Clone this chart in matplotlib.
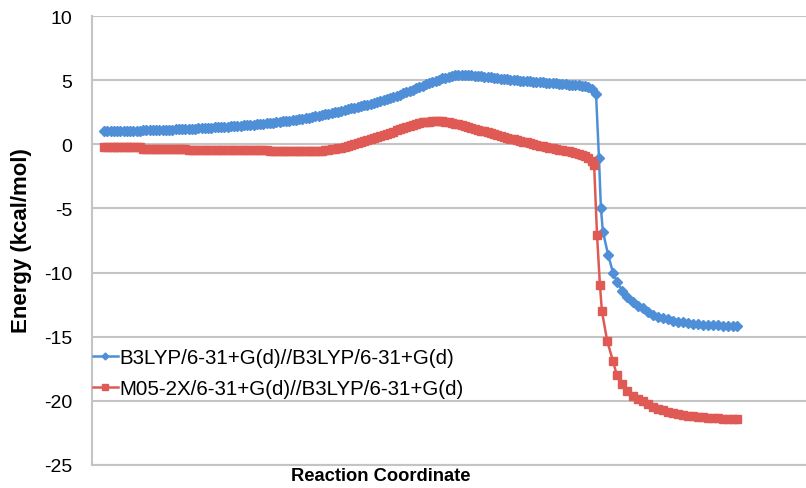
import numpy as np
import matplotlib
matplotlib.use("Agg")
import matplotlib.pyplot as plt

plt.rcParams['font.family'] = ['Liberation Sans', 'DejaVu Sans']

# IRC steps for the dense part (shared by both curves)
steps = np.arange(151)

b3lyp_main = [
    1.00, 1.00, 1.01, 1.01, 1.02, 1.03, 1.03, 1.04, 1.05, 1.05,
    1.06, 1.07, 1.08, 1.08, 1.09, 1.10, 1.11, 1.12, 1.13, 1.13,
    1.14, 1.15, 1.16, 1.17, 1.18, 1.19, 1.20, 1.21, 1.22, 1.24,
    1.25, 1.27, 1.28, 1.30, 1.31, 1.33, 1.34, 1.36, 1.38, 1.39,
    1.41, 1.43, 1.45, 1.47, 1.48, 1.50, 1.53, 1.55, 1.58, 1.60,
    1.63, 1.66, 1.69, 1.72, 1.75, 1.78, 1.81, 1.84, 1.88, 1.91,
    1.95, 1.99, 2.03, 2.08, 2.13, 2.18, 2.23, 2.28, 2.33, 2.38,
    2.44, 2.49, 2.55, 2.61, 2.67, 2.73, 2.79, 2.85, 2.91, 2.97,
    3.03, 3.10, 3.17, 3.24, 3.31, 3.38, 3.46, 3.54, 3.62, 3.70,
    3.79, 3.88, 3.97, 4.07, 4.17, 4.27, 4.37, 4.47, 4.57, 4.67,
    4.77, 4.87, 4.96, 5.05, 5.13, 5.20, 5.27, 5.33, 5.37, 5.40,
    5.41, 5.41, 5.40, 5.38, 5.36, 5.33, 5.30, 5.27, 5.24, 5.21,
    5.18, 5.15, 5.12, 5.09, 5.06, 5.03, 5.00, 4.98, 4.96, 4.94,
    4.92, 4.90, 4.88, 4.86, 4.84, 4.82, 4.80, 4.78, 4.76, 4.74,
    4.72, 4.70, 4.68, 4.66, 4.64, 4.62, 4.60, 4.57, 4.52, 4.45,
    4.30,
]

m05_main = [
    -0.25, -0.25, -0.25, -0.25, -0.25, -0.25, -0.25, -0.25, -0.25, -0.25,
    -0.25, -0.25, -0.35, -0.35, -0.35, -0.35, -0.35, -0.35, -0.35, -0.35,
    -0.35, -0.35, -0.35, -0.35, -0.35, -0.35, -0.42, -0.42, -0.42, -0.42,
    -0.42, -0.42, -0.43, -0.43, -0.43, -0.43, -0.44, -0.44, -0.44, -0.44,
    -0.45, -0.45, -0.45, -0.45, -0.45, -0.45, -0.45, -0.45, -0.45, -0.45,
    -0.45, -0.52, -0.52, -0.52, -0.52, -0.52, -0.52, -0.52, -0.52, -0.52,
    -0.53, -0.54, -0.55, -0.55, -0.55, -0.54, -0.53, -0.50, -0.47, -0.43,
    -0.40, -0.36, -0.31, -0.26, -0.21, -0.15, -0.08, -0.01, 0.07, 0.15,
    0.23, 0.31, 0.39, 0.47, 0.55, 0.63, 0.72, 0.81, 0.90, 0.99,
    1.08, 1.17, 1.26, 1.35, 1.44, 1.52, 1.59, 1.65, 1.70, 1.74,
    1.77, 1.79, 1.80, 1.80, 1.79, 1.77, 1.73, 1.68, 1.62, 1.56,
    1.49, 1.42, 1.35, 1.28, 1.21, 1.14, 1.07, 1.00, 0.93, 0.86,
    0.79, 0.72, 0.65, 0.58, 0.51, 0.44, 0.38, 0.32, 0.26, 0.20,
    0.14, 0.08, 0.02, -0.04, -0.10, -0.16, -0.21, -0.26, -0.31, -0.36,
    -0.41, -0.46, -0.51, -0.56, -0.61, -0.66, -0.72, -0.80, -0.90, -1.05,
    -1.30,
]

# product side, coarser steps
b3lyp_tail_x = [151.4, 152.3, 152.9, 153.5, 155.1, 156.6, 157.8, 159.4, 160.9,
                162.8, 164.3, 165.8, 167.4, 168.9, 170.5, 172.0, 173.5, 175.1,
                176.6, 178.2, 179.7, 181.2, 182.8, 184.3, 185.8, 187.4, 188.9,
                190.5, 192.0, 193.5, 194.8]
b3lyp_tail = [3.90, -1.10, -5.00, -6.80, -8.60, -10.00, -10.70, -11.40, -11.90,
              -12.30, -12.60, -12.80, -13.10, -13.30, -13.45, -13.55, -13.65, -13.75,
              -13.82, -13.88, -13.93, -13.98, -14.02, -14.05, -14.08, -14.10, -14.12,
              -14.14, -14.15, -14.17, -14.18]

m05_tail_x = [150.8, 151.7, 152.6, 153.2, 154.8, 156.6, 157.8, 159.4, 160.9,
              162.8, 164.3, 165.8, 167.4, 168.9, 170.5, 172.0, 173.5, 175.1,
              176.6, 178.2, 179.7, 181.2, 182.8, 184.3, 185.8, 187.4, 188.9,
              190.5, 192.0, 193.5, 194.8]
m05_tail = [-1.60, -7.10, -11.00, -13.00, -15.30, -16.90, -18.00, -18.70, -19.20,
            -19.60, -19.85, -20.05, -20.25, -20.45, -20.60, -20.75, -20.85, -20.95,
            -21.03, -21.10, -21.15, -21.20, -21.25, -21.28, -21.31, -21.34, -21.36,
            -21.38, -21.40, -21.41, -21.42]

labels = ["B3LYP/6-31+G(d)//B3LYP/6-31+G(d)", "M05-2X/6-31+G(d)//B3LYP/6-31+G(d)"]
yticks = [10, 5, 0, -5, -10, -15, -20, -25]

blue = '#4f8fd8'
red = '#e05a55'

x_b = np.concatenate([steps, b3lyp_tail_x])
y_b = np.concatenate([b3lyp_main, b3lyp_tail])
x_r = np.concatenate([steps, m05_tail_x])
y_r = np.concatenate([m05_main, m05_tail])

fig = plt.figure(figsize=(8.06, 4.89), dpi=100)
ax = fig.add_axes([92 / 806, 1 - 466 / 489, 1 - 92 / 806, (466 - 17) / 489])

ax.plot(x_b, y_b, color=blue, lw=1.8, marker='D', ms=5, mec=blue, mfc=blue,
        label=labels[0], zorder=3)
ax.plot(x_r, y_r, color=red, lw=1.8, marker='s', ms=5.5, mec=red, mfc=red,
        label=labels[1], zorder=3)

ax.set_xlim(-3.7, 216)
ax.set_ylim(-25, 10)
ax.set_yticks(yticks)
ax.set_yticklabels([str(t) for t in yticks], fontsize=14)
ax.set_xticks([])
ax.tick_params(axis='y', length=0, pad=14)
ax.grid(axis='y', color='#c4c4c4', lw=1.5)
ax.set_axisbelow(True)
for s in ['top', 'right']:
    ax.spines[s].set_visible(False)
ax.spines['left'].set_color('#c4c4c4')
ax.spines['left'].set_linewidth(1.5)
ax.spines['bottom'].set_color('#c4c4c4')
ax.spines['bottom'].set_linewidth(1.5)

fig.text(22 / 806, 1 - 241 / 489, "Energy (kcal/mol)", rotation=90, fontsize=16,
         fontweight='bold', ha='center', va='center')
fig.text(381 / 806, 1 - 477 / 489, "Reaction Coordinate", fontsize=13.2,
         fontweight='bold', ha='center', va='center')

leg = ax.legend(loc='upper left', bbox_to_anchor=(93 / 806, 1 - 349 / 489),
                bbox_transform=fig.transFigure, frameon=False, fontsize=14.8,
                handlelength=1.2, handletextpad=0.1, labelspacing=0.6,
                borderpad=0, borderaxespad=0, markerscale=0.7)

fig.savefig("out.png", dpi=100)
